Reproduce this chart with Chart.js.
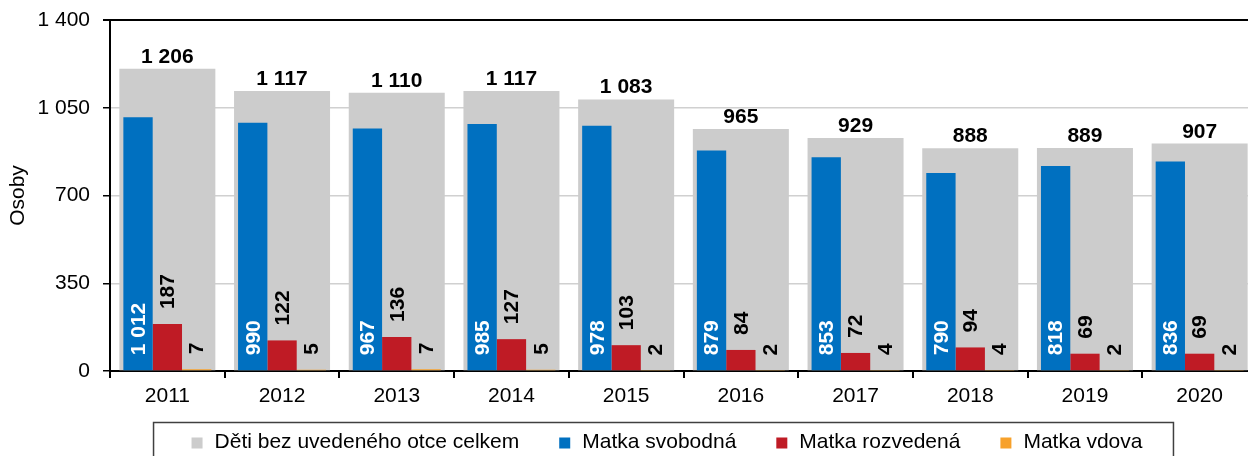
<!DOCTYPE html>
<html>
<head>
<meta charset="utf-8">
<title>Děti bez uvedeného otce</title>
<script src="https://cdn.jsdelivr.net/npm/chart.js@4.4.1/dist/chart.umd.min.js"></script>
<style>
  html, body { margin: 0; padding: 0; background: #fff; overflow: hidden; }
  #wrap { width: 1248px; height: 456px; overflow: hidden; position: relative; }
  canvas { display: block; }
</style>
</head>
<body>
<div id="wrap">
  <canvas id="myChart" width="1260" height="462"></canvas>
</div>
<script>
// Data
const years = ['2011', '2012', '2013', '2014', '2015', '2016', '2017', '2018', '2019', '2020'];
const celkem = [1206, 1117, 1110, 1117, 1083, 965, 929, 888, 889, 907];
const svobodna = [1012, 990, 967, 985, 978, 879, 853, 790, 818, 836];
const rozvedena = [187, 122, 136, 127, 103, 84, 72, 94, 69, 69];
const vdova = [7, 5, 7, 5, 2, 2, 4, 4, 2, 2];
const yTicks = [0, 350, 700, 1050, 1400];

const FONT = '"Liberation Sans", Arial, Helvetica, sans-serif';

// Format numbers with a space as thousands separator (1 206)
function fmt(v) {
    return String(v).replace(/\B(?=(\d{3})+(?!\d))/g, ' ');
}

// Plugin that writes the values on the bars
const valueLabels = {
    id: 'valueLabels',
    afterDatasetsDraw(chart) {
        const ctx = chart.ctx;
        ctx.save();
        ctx.font = 'bold 21px ' + FONT;
        chart.data.datasets.forEach((ds, i) => {
            const meta = chart.getDatasetMeta(i);
            meta.data.forEach((bar, j) => {
                const text = fmt(ds.data[j]);
                if (i === 0) {
                    // totals above the grey bar
                    ctx.fillStyle = '#000';
                    ctx.textAlign = 'center';
                    ctx.textBaseline = 'alphabetic';
                    ctx.fillText(text, bar.x, bar.y - 6);
                } else {
                    ctx.save();
                    let startY;
                    if (i === 1) {
                        ctx.fillStyle = '#fff';
                        startY = bar.base - 15;
                    } else {
                        ctx.fillStyle = '#000';
                        startY = bar.y - 15;
                    }
                    ctx.translate(bar.x, startY);
                    ctx.rotate(-Math.PI / 2);
                    ctx.textAlign = 'left';
                    ctx.textBaseline = 'middle';
                    ctx.fillText(text, 0, 1);
                    ctx.restore();
                }
            });
        });
        ctx.restore();
    }
};

// Plugin that draws the framed legend under the axis
const boxLegend = {
    id: 'boxLegend',
    afterDraw(chart) {
        const ctx = chart.ctx;
        const datasets = chart.data.datasets;
        const box = 11, gapText = 12, gapItem = 40;
        ctx.save();
        ctx.font = '21px ' + FONT;
        const widths = datasets.map(ds => ctx.measureText(ds.label).width);
        const total = widths.reduce((a, w) => a + box + gapText + w, 0) + gapItem * (datasets.length - 1);
        const centerX = 667;
        const midY = 442;
        let x = centerX - total / 2;
        const startX = x;

        ctx.strokeStyle = '#404040';
        ctx.lineWidth = 1.5;
        ctx.strokeRect(startX - 38, 422.5, total + 38 + 31, 60);

        ctx.textAlign = 'left';
        ctx.textBaseline = 'middle';
        datasets.forEach((ds, i) => {
            ctx.fillStyle = ds.backgroundColor;
            ctx.fillRect(x, midY - box / 2 + 1, box, box);
            ctx.fillStyle = '#000';
            ctx.fillText(ds.label, x + box + gapText, midY);
            x += box + gapText + widths[i] + gapItem;
        });
        ctx.restore();
    }
};

const ctx = document.getElementById('myChart').getContext('2d');

new Chart(ctx, {
    type: 'bar',
    data: {
        labels: years,
        datasets: [
            {
                label: 'Děti bez uvedeného otce celkem',
                data: celkem,
                backgroundColor: '#cccccc',
                grouped: false,
                order: 1,
                categoryPercentage: 1,
                barPercentage: 0.837
            },
            {
                label: 'Matka svobodná',
                data: svobodna,
                backgroundColor: '#0070c0',
                order: 0,
                categoryPercentage: 0.767,
                barPercentage: 1
            },
            {
                label: 'Matka rozvedená',
                data: rozvedena,
                backgroundColor: '#bf1b25',
                order: 0,
                categoryPercentage: 0.767,
                barPercentage: 1
            },
            {
                label: 'Matka vdova',
                data: vdova,
                backgroundColor: '#f7a12b',
                order: 0,
                categoryPercentage: 0.767,
                barPercentage: 1
            }
        ]
    },
    options: {
        responsive: false,
        animation: false,
        layout: {
            padding: { top: 20, right: 3, bottom: 40, left: 0 }
        },
        plugins: {
            legend: { display: false },
            tooltip: { enabled: false }
        },
        scales: {
            x: {
                type: 'category',
                offset: true,
                grid: {
                    offset: true,
                    drawOnChartArea: false,
                    drawTicks: true,
                    tickLength: 7,
                    color: '#000',
                    lineWidth: 2
                },
                border: { display: true, color: '#000', width: 2 },
                ticks: {
                    color: '#000',
                    font: { family: FONT, size: 21 },
                    padding: 6,
                    maxRotation: 0
                },
                afterFit(scale) { scale.height = 51; }
            },
            y: {
                min: 0,
                max: 1400,
                afterBuildTicks(scale) {
                    scale.ticks = yTicks.map(v => ({ value: v }));
                },
                grid: {
                    color: c => (c.tick && c.tick.value === 1400) ? '#000' : '#d0d0d0',
                    lineWidth: c => (c.tick && c.tick.value === 1400) ? 2 : 1.5,
                    tickColor: '#000',
                    tickLength: 7
                },
                border: { display: true, color: '#000', width: 2 },
                ticks: {
                    color: '#000',
                    font: { family: FONT, size: 21 },
                    padding: 13,
                    callback: v => fmt(v)
                },
                title: {
                    display: true,
                    text: 'Osoby',
                    color: '#000',
                    font: { family: FONT, size: 21 },
                    padding: { top: 6, bottom: 0 }
                },
                afterFit(scale) {
                    scale.width = 110;
                    scale.paddingTop = 0;
                    scale.paddingBottom = 0;
                }
            }
        }
    },
    plugins: [valueLabels, boxLegend]
});
</script>
</body>
</html>
